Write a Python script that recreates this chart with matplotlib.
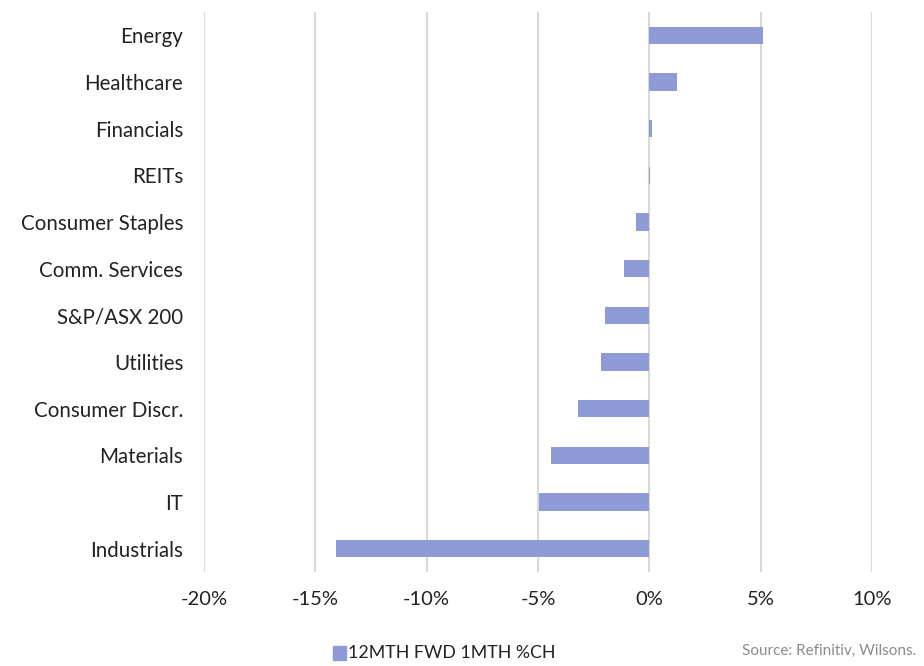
import numpy as np
import matplotlib.pyplot as plt
from matplotlib.patches import Rectangle

plt.rcParams['font.family'] = ['Lato', 'DejaVu Sans']

# 12-month forward EPS, 1-month % change by sector
sectors = ["Energy", "Healthcare", "Financials", "REITs", "Consumer Staples",
           "Comm. Services", "S&P/ASX 200", "Utilities", "Consumer Discr.",
           "Materials", "IT", "Industrials"]
changes = [5.12, 1.26, 0.13, 0.03, -0.62, -1.14, -2.0, -2.18, -3.21, -4.42, -4.94, -14.06]
xticks = [-20, -15, -10, -5, 0, 5, 10]

bar_color = "#8E9BD6"

fig = plt.figure(figsize=(9.24, 6.66), dpi=100)
ax = fig.add_axes([204/924, 1 - 572/666, (872 - 204)/924, 560/666])

y = np.arange(len(sectors))
ax.barh(y, changes, height=0.37, color=bar_color, zorder=3)

ax.set_xlim(-20, 10)
ax.set_ylim(len(sectors) - 0.5, -0.5)
ax.set_yticks(y)
ax.set_yticklabels(sectors, fontsize=14.8, color="#222222")
ax.set_xticks(xticks)
ax.set_xticklabels([f"{t}%" for t in xticks], fontsize=14.5, color="#222222")
ax.tick_params(axis="both", length=0)
ax.tick_params(axis="y", pad=15)
ax.tick_params(axis="x", pad=14)
ax.grid(axis="x", color="#d9d9d9", linewidth=1.5, zorder=0)
for s in ax.spines.values():
    s.set_visible(False)

# legend entry
fig.patches.append(Rectangle((333/924, 1 - 660/666), 13/924, 14/666,
                             transform=fig.transFigure, color=bar_color))
fig.text(348/924, 1 - 653/666, "12MTH FWD 1MTH %CH", fontsize=12.8,
         color="#222222", va="center", ha="left")
fig.text(916/924, 1 - 651/666, "Source: Refinitiv, Wilsons.", fontsize=11,
         color="#8c8c8c", va="center", ha="right")

fig.savefig("out.png", dpi=100)
